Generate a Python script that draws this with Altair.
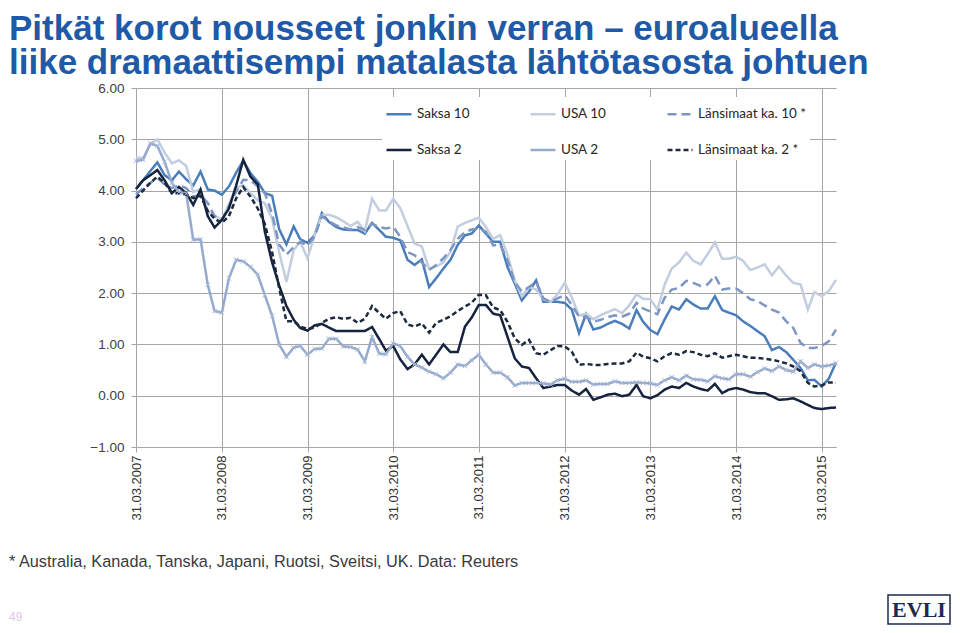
import altair as alt
import pandas as pd

# ---------------- data (monthly, 31.03.2007 ... 31.05.2015) ----------------
series_names = ["Saksa 10", "USA 10", "Länsimaat ka. 10 *", "Saksa 2", "USA 2", "Länsimaat ka. 2 *"]

saksa10 = [4.03, 4.20, 4.38, 4.55, 4.30, 4.20, 4.37, 4.22, 4.10, 4.37, 4.02, 4.00,
           3.92, 4.08, 4.35, 4.58, 4.34, 4.17, 3.95, 3.90, 3.25, 2.95, 3.30, 3.05,
           2.98, 3.13, 3.56, 3.39, 3.29, 3.24, 3.23, 3.23, 3.16, 3.37, 3.23, 3.10,
           3.08, 3.03, 2.65, 2.55, 2.66, 2.12, 2.29, 2.48, 2.65, 2.94, 3.13, 3.16,
           3.32, 3.16, 3.00, 3.00, 2.51, 2.19, 1.86, 2.03, 2.25, 1.83, 1.83, 1.83,
           1.81, 1.68, 1.22, 1.59, 1.29, 1.33, 1.40, 1.46, 1.40, 1.31, 1.67, 1.44,
           1.28, 1.20, 1.49, 1.74, 1.68, 1.88, 1.78, 1.70, 1.70, 1.94, 1.67, 1.62,
           1.57, 1.45, 1.36, 1.26, 1.16, 0.89, 0.95, 0.85, 0.70, 0.54, 0.30, 0.31,
           0.18, 0.33, 0.65]

usa10 = [4.65, 4.63, 4.89, 5.00, 4.74, 4.53, 4.59, 4.48, 3.97, 4.03, 3.59, 3.51,
         3.43, 3.73, 4.06, 4.10, 3.95, 3.81, 3.75, 3.45, 2.80, 2.22, 2.84, 3.00,
         2.68, 3.12, 3.52, 3.53, 3.48, 3.40, 3.31, 3.39, 3.21, 3.84, 3.61, 3.61,
         3.84, 3.66, 3.31, 2.97, 2.91, 2.47, 2.52, 2.60, 2.81, 3.30, 3.37, 3.42,
         3.47, 3.29, 3.06, 3.13, 2.75, 2.25, 1.94, 2.12, 2.07, 1.88, 1.83, 1.98,
         2.20, 1.92, 1.56, 1.60, 1.49, 1.57, 1.63, 1.69, 1.61, 1.76, 1.98, 1.89,
         1.88, 1.68, 2.17, 2.48, 2.60, 2.79, 2.63, 2.56, 2.76, 2.99, 2.67, 2.67,
         2.71, 2.63, 2.45, 2.50, 2.56, 2.35, 2.52, 2.34, 2.20, 2.17, 1.68, 2.02,
         1.94, 2.04, 2.26]

lansi10 = [3.92, 4.05, 4.15, 4.25, 4.12, 4.05, 4.10, 4.05, 3.88, 3.92, 3.76, 3.50,
           3.43, 3.70, 3.98, 4.21, 4.20, 4.08, 3.95, 3.55, 2.95, 2.75, 2.90, 3.00,
           2.93, 3.10, 3.50, 3.40, 3.32, 3.28, 3.24, 3.29, 3.23, 3.35, 3.29, 3.26,
           3.29, 3.10, 2.80, 2.74, 2.60, 2.45, 2.55, 2.68, 2.84, 3.06, 3.19, 3.24,
           3.26, 3.20, 2.93, 2.95, 2.64, 2.22, 2.03, 2.12, 2.22, 1.90, 1.83, 1.90,
           1.96, 1.77, 1.54, 1.54, 1.44, 1.48, 1.53, 1.57, 1.54, 1.60, 1.81, 1.70,
           1.64, 1.59, 1.91, 2.07, 2.10, 2.24, 2.20, 2.14, 2.17, 2.34, 2.07, 2.09,
           2.09, 2.00, 1.88, 1.85, 1.76, 1.68, 1.62, 1.45, 1.32, 1.03, 0.93, 0.93,
           0.97, 1.06, 1.29]

saksa2 = [4.03, 4.20, 4.30, 4.40, 4.20, 3.95, 4.07, 3.95, 3.72, 4.02, 3.50, 3.28,
          3.43, 3.65, 4.10, 4.60, 4.27, 4.12, 3.20, 2.60, 2.15, 1.75, 1.48, 1.32,
          1.27, 1.37, 1.40, 1.33, 1.26, 1.26, 1.26, 1.26, 1.26, 1.34, 1.10, 0.88,
          0.97, 0.71, 0.52, 0.61, 0.80, 0.61, 0.80, 1.00, 0.85, 0.85, 1.35, 1.52,
          1.77, 1.77, 1.60, 1.57, 1.15, 0.73, 0.57, 0.54, 0.34, 0.15, 0.18, 0.21,
          0.21, 0.10, 0.02, 0.13, -0.08, -0.03, 0.02, 0.04, -0.01, 0.02, 0.21, -0.01,
          -0.05, 0.01, 0.12, 0.18, 0.15, 0.25, 0.18, 0.13, 0.10, 0.23, 0.05, 0.12,
          0.15, 0.12, 0.07, 0.05, 0.05, -0.01, -0.08, -0.07, -0.05, -0.11, -0.18, -0.24,
          -0.26, -0.24, -0.23]

usa2 = [4.58, 4.60, 4.92, 4.87, 4.56, 4.15, 3.97, 3.94, 3.04, 3.05, 2.16, 1.65,
        1.62, 2.29, 2.65, 2.62, 2.51, 2.36, 1.96, 1.56, 1.00, 0.76, 0.94, 0.97,
        0.80, 0.91, 0.92, 1.11, 1.11, 0.96, 0.95, 0.90, 0.67, 1.14, 0.82, 0.81,
        1.02, 0.97, 0.76, 0.61, 0.55, 0.47, 0.42, 0.34, 0.45, 0.61, 0.58, 0.69,
        0.80, 0.61, 0.45, 0.45, 0.36, 0.20, 0.25, 0.25, 0.25, 0.24, 0.22, 0.30,
        0.33, 0.27, 0.27, 0.30, 0.22, 0.23, 0.23, 0.28, 0.25, 0.25, 0.26, 0.25,
        0.24, 0.21, 0.30, 0.36, 0.30, 0.39, 0.32, 0.31, 0.28, 0.38, 0.34, 0.32,
        0.42, 0.42, 0.37, 0.46, 0.53, 0.48, 0.57, 0.50, 0.47, 0.67, 0.54, 0.61,
        0.57, 0.59, 0.63]

lansi2 = [3.85, 4.00, 4.15, 4.27, 4.15, 3.95, 3.95, 3.92, 3.85, 3.90, 3.60, 3.45,
          3.37, 3.50, 3.85, 4.07, 3.88, 3.65, 3.35, 2.80, 2.10, 1.45, 1.45, 1.35,
          1.30, 1.33, 1.42, 1.50, 1.53, 1.50, 1.52, 1.42, 1.50, 1.75, 1.61, 1.50,
          1.61, 1.65, 1.39, 1.35, 1.41, 1.23, 1.42, 1.48, 1.55, 1.65, 1.74, 1.81,
          1.97, 1.96, 1.72, 1.67, 1.44, 1.12, 0.99, 1.09, 0.83, 0.80, 0.89, 0.97,
          0.96, 0.86, 0.60, 0.62, 0.60, 0.60, 0.62, 0.63, 0.63, 0.67, 0.84, 0.76,
          0.73, 0.67, 0.77, 0.83, 0.80, 0.87, 0.85, 0.80, 0.77, 0.83, 0.74, 0.77,
          0.80, 0.77, 0.74, 0.74, 0.72, 0.70, 0.67, 0.63, 0.57, 0.48, 0.25, 0.18,
          0.20, 0.26, 0.26]

dates = pd.date_range(start="2007-03-31", periods=len(saksa10), freq=pd.offsets.MonthEnd())
tick_years = list(range(2007, 2016))
y_ticks = [-1, 0, 1, 2, 3, 4, 5, 6]

title_lines = ["Pitkät korot nousseet jonkin verran – euroalueella",
               "liike dramaattisempi matalasta lähtötasosta johtuen"]
footnote = "* Australia, Kanada, Tanska, Japani, Ruotsi, Sveitsi, UK. Data: Reuters"
page_no = "49"
logo_text = "EVLI"

colors = ["#4a7ebb", "#c3cde0", "#7d96c3", "#15233e", "#96aacd", "#1c2a3f"]
dashes = [[1, 0], [1, 0], [9, 5], [1, 0], [1, 0], [5, 3]]

values_by_series = [saksa10, usa10, lansi10, saksa2, usa2, lansi2]
frames = []
for name, vals in zip(series_names, values_by_series):
    frames.append(pd.DataFrame({"date": dates, "value": vals, "series": name}))
df = pd.concat(frames, ignore_index=True)

# ---------------- chart ----------------
x_enc = alt.X(
    "date:T",
    scale=alt.Scale(domain=[alt.DateTime(year=2007, month=3, date=31),
                            alt.DateTime(year=2015, month=5, date=31)]),
    axis=alt.Axis(
        values=[alt.DateTime(year=y, month=3, date=31) for y in tick_years],
        format="%d.%m.%Y", labelAngle=270, labelAlign="right", labelBaseline="middle",
        labelPadding=3, tickSize=5, title=None, grid=True,
        labelFont="Liberation Sans", labelFontSize=13, labelColor="#333333",
    ),
)
y_enc = alt.Y(
    "value:Q",
    scale=alt.Scale(domain=[-1, 6], nice=False, zero=False),
    axis=alt.Axis(values=y_ticks, format=".2f", title=None, grid=True, tickSize=5,
                  labelPadding=7, labelFont="Liberation Sans", labelFontSize=13.5,
                  labelColor="#404040"),
)

lines = alt.Chart(df).mark_line(strokeWidth=2.5).encode(
    x=x_enc,
    y=y_enc,
    color=alt.Color("series:N", scale=alt.Scale(domain=series_names, range=colors), title=None),
    strokeDash=alt.StrokeDash("series:N", scale=alt.Scale(domain=series_names, range=dashes), title=None),
)

markers = alt.Chart(df).transform_filter(alt.datum.series == "USA 2").mark_point(
    shape="M-1,-1L1,1M-1,1L1,-1", size=22, filled=False, strokeWidth=1, color="#a9bad8", opacity=1
).encode(x="date:T", y="value:Q")


def text_layer(txt, x, y, **kw):
    return alt.Chart(pd.DataFrame({"t": [txt]})).mark_text(**kw).encode(
        text="t:N", x=alt.value(x), y=alt.value(y)
    )


title = alt.Chart(pd.DataFrame({"t": [0]})).mark_text(
    align="left", baseline="alphabetic", font="Liberation Sans", fontSize=35,
    fontWeight="bold", color="#1f5aa8", lineHeight=34,
).encode(text=alt.value(title_lines), x=alt.value(-127), y=alt.value(-48))

fn = text_layer(footnote, -127, 479, align="left", baseline="alphabetic",
                font="Liberation Sans", fontSize=16.3, color="#3a3a3a")
pg = text_layer(page_no, -127, 533, align="left", baseline="alphabetic",
                font="Liberation Sans", fontSize=12, color="#e2c9e2")

logo_box = alt.Chart(pd.DataFrame({"t": [logo_text]})).mark_rect(
    fill="white", stroke="#1b2a52", strokeWidth=1.5
).encode(x=alt.value(752), x2=alt.value(814), y=alt.value(507), y2=alt.value(536))
logo = text_layer(logo_text, 783, 522, align="center", baseline="middle",
                  font="Liberation Serif", fontSize=22, fontWeight="bold", color="#1b2a52")

chart = alt.layer(lines, markers, title, fn, pg, logo_box, logo).properties(
    width=700, height=359,
    padding={"left": 128, "top": 80, "right": 116, "bottom": 178},
    autosize=alt.AutoSizeParams(type="none"),
    background="white",
).configure_view(stroke=None).configure_axis(
    gridColor="#a6a6a6", gridWidth=1, domainColor="#a6a6a6", tickColor="#a6a6a6",
).configure_legend(
    orient="none", legendX=246, legendY=9, columns=3, direction="horizontal",
    fillColor="white", padding=3, rowPadding=15, columnPadding=55, symbolType="stroke",
    symbolSize=625, symbolStrokeWidth=2.5, labelFont="Lato", labelFontSize=13.5,
    labelColor="#262626", labelOffset=4, labelLimit=200,
)

chart.save("out.html", embed_options={"renderer": "svg", "actions": False})
